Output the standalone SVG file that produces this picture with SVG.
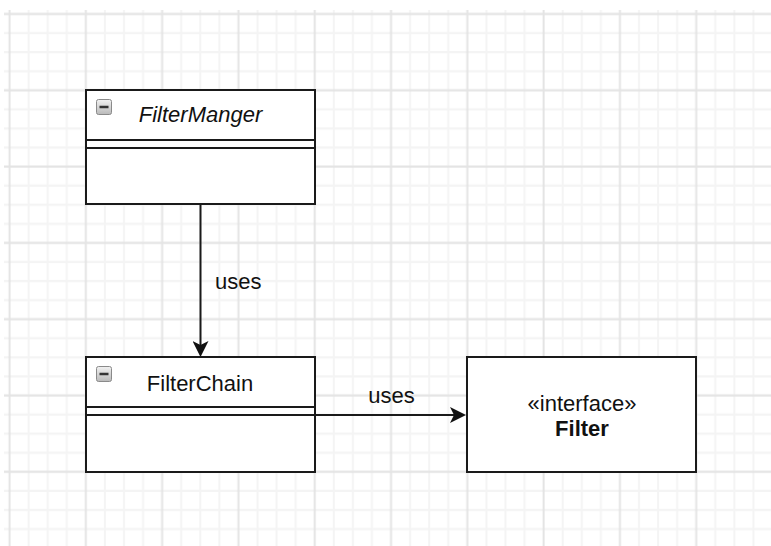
<svg xmlns="http://www.w3.org/2000/svg" width="771" height="546" viewBox="0 0 771 546">
  <style>
    .box { fill: #ffffff; stroke: #1a1a1a; stroke-width: 2; }
    .sep { fill: none; stroke: #1a1a1a; stroke-width: 2; }
    .edge { fill: none; stroke: #1a1a1a; stroke-width: 2; }
    .lbl { font-family: "Liberation Sans", Arial, sans-serif; font-size: 22px; fill: #111111; }
    .minus-bg { fill: url(#minusGrad); stroke: #8a8a8a; stroke-width: 1; }
    .minus { stroke: #333333; stroke-width: 2.5; }
  </style>
  <defs>
    <pattern id="grid" patternUnits="userSpaceOnUse" x="0" y="4.46" width="76.3" height="76.3">
      <g stroke="#f4f4f4" stroke-width="2">
        <line x1="28.61" y1="0" x2="28.61" y2="76.3"/>
        <line x1="47.69" y1="0" x2="47.69" y2="76.3"/>
        <line x1="66.76" y1="0" x2="66.76" y2="76.3"/>
        <line x1="0" y1="28.61" x2="76.3" y2="28.61"/>
        <line x1="0" y1="47.69" x2="76.3" y2="47.69"/>
        <line x1="0" y1="66.76" x2="76.3" y2="66.76"/>
      </g>
      <g stroke="#e4e4e4" stroke-width="2">
        <line x1="9.54" y1="0" x2="9.54" y2="76.3"/>
        <line x1="0" y1="9.54" x2="76.3" y2="9.54"/>
      </g>
    </pattern>
    <linearGradient id="minusGrad" x1="0" y1="0" x2="0" y2="1">
      <stop offset="0" stop-color="#f2f2f2"/>
      <stop offset="1" stop-color="#b9b9b9"/>
    </linearGradient>
    <marker id="arrow" markerUnits="userSpaceOnUse" viewBox="0 0 16 16" markerWidth="16" markerHeight="16" refX="4" refY="8" orient="auto">
      <path d="M0,0 L16,8 L0,16 L4,8 Z" fill="#111111"/>
    </marker>
  </defs>

  <!-- background grid -->
  <rect x="0" y="0" width="771" height="546" fill="#ffffff"/>
  <rect x="4" y="10" width="767" height="536" fill="url(#grid)"/>

  <!-- connectors -->
  <g id="edges">
    <line class="edge" x1="200.5" y1="205" x2="200.5" y2="345" marker-end="url(#arrow)"/>
    <text class="lbl" x="215" y="289">uses</text>
    <line class="edge" x1="315" y1="415" x2="454" y2="415" marker-end="url(#arrow)"/>
    <text class="lbl" x="391.5" y="403" text-anchor="middle">uses</text>
  </g>

  <!-- FilterManger class -->
  <g id="filterManger">
    <rect class="box" x="86" y="90" width="229" height="114"/>
    <line class="sep" x1="86" y1="140" x2="315" y2="140"/>
    <line class="sep" x1="86" y1="148" x2="315" y2="148"/>
    <rect class="minus-bg" x="96.5" y="99.5" width="15" height="15" rx="2"/>
    <line class="minus" x1="99.5" y1="107" x2="108.5" y2="107"/>
    <text class="lbl" x="200.5" y="122" text-anchor="middle" font-style="italic">FilterManger</text>
  </g>

  <!-- FilterChain class -->
  <g id="filterChain">
    <rect class="box" x="86" y="357" width="229" height="115"/>
    <line class="sep" x1="86" y1="407" x2="315" y2="407"/>
    <line class="sep" x1="86" y1="415" x2="315" y2="415"/>
    <rect class="minus-bg" x="96.5" y="366.5" width="15" height="15" rx="2"/>
    <line class="minus" x1="99.5" y1="374" x2="108.5" y2="374"/>
    <text class="lbl" x="200" y="391" text-anchor="middle">FilterChain</text>
  </g>

  <!-- Filter interface -->
  <g id="filter">
    <rect class="box" x="467" y="357" width="229" height="115"/>
    <text class="lbl" x="582" y="411" text-anchor="middle">«interface»</text>
    <text class="lbl" x="582" y="436" text-anchor="middle" font-weight="bold">Filter</text>
  </g>
</svg>
